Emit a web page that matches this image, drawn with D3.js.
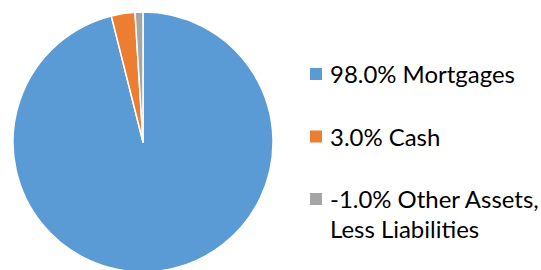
<!DOCTYPE html>
<html>
<head>
<meta charset="utf-8">
<script src="https://cdn.jsdelivr.net/npm/d3@7"></script>
<style>
  html, body { margin: 0; padding: 0; background: #fff; }
  svg { display: block; }
</style>
</head>
<body>
<svg id="chart" width="541" height="270"></svg>
<script>
const categories = ["Mortgages", "Cash", "Other Assets, Less Liabilities"];
const values = [98.0, 3.0, -1.0];
const colors = ["#5B9BD5", "#ED7D31", "#A5A5A5"];

const W = 541, H = 270;
const cx = 143, cy = 142, R = 130;

const svg = d3.select("#chart");

const pie = d3.pie().sort(null).value(d => Math.abs(d.v));
const arcs = pie(values.map((v, i) => ({ v, i })));
const arc = d3.arc().innerRadius(0).outerRadius(R);

svg.append("g")
  .attr("transform", `translate(${cx},${cy})`)
  .selectAll("path")
  .data(arcs)
  .join("path")
  .attr("d", arc)
  .attr("fill", d => colors[d.data.i])
  .attr("stroke", "#fff")
  .attr("stroke-width", 1.5)
  .attr("stroke-linejoin", "round");

// Legend
const fmt = v => d3.format(".1f")(v).replace("\u2212", "-");
const fontFamily = "Lato, 'Open Sans', sans-serif";
const textX = 330, boxX = 310, box = 12;
const lineH = 30;
const yScale = d3.scaleLinear().domain([0, 2]).range([83, 208]);

// fit font size so the first label matches reference width (~185px)
const probe = svg.append("text").attr("font-family", fontFamily).attr("font-size", 26)
  .text(fmt(values[0]) + "% " + categories[0]);
const fs = 26 * 185 / probe.node().getComputedTextLength();
probe.remove();

const legend = svg.append("g");
categories.forEach((c, i) => {
  const y = yScale(i);
  legend.append("rect")
    .attr("x", boxX).attr("y", y - 15).attr("width", box).attr("height", box)
    .attr("fill", colors[i]);
  const t = legend.append("text")
    .attr("font-family", fontFamily).attr("font-size", fs)
    .attr("fill", "#000");
  const lines = (fmt(values[i]) + "% " + c).split(/(?<=,) /);
  lines.forEach((ln, k) => {
    t.append("tspan").attr("x", textX).attr("y", y + k * lineH).text(ln);
  });
});
</script>
</body>
</html>
